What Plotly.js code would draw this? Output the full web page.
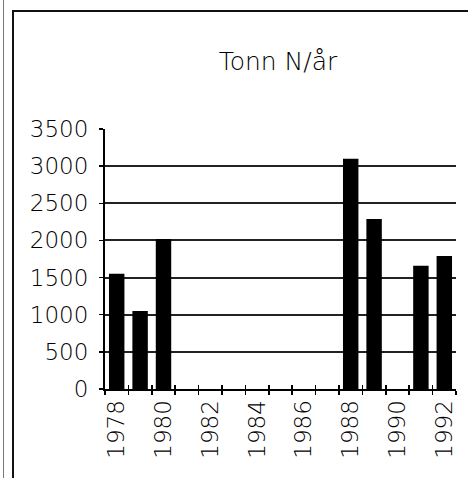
<!DOCTYPE html>
<html>
<head>
<meta charset="utf-8">
<script src="https://cdn.plot.ly/plotly-3.0.1.min.js"></script>
<style>
html,body{margin:0;padding:0;background:#fff;}
#wrap{position:relative;width:468px;height:478px;overflow:hidden;}
#chart{position:absolute;left:0;top:0;width:468px;height:478px;}
#b1{position:absolute;left:3px;top:0;width:1px;height:478px;background:#777;}
#b2{position:absolute;left:12px;top:10px;width:456px;height:468px;border-left:2px solid #111;border-top:2px solid #111;box-sizing:border-box;}
</style>
</head>
<body>
<div id="wrap">
<div id="chart"></div>
<div id="b1"></div>
<div id="b2"></div>
</div>
<script>
const years = [1978,1979,1980,1981,1982,1983,1984,1985,1986,1987,1988,1989,1990,1991,1992];
const tonnN = [1550,1050,2020,null,null,null,null,null,null,null,3100,2290,null,1660,1790];
const tickYears = [1978,1980,1982,1984,1986,1988,1990,1992];
const tickLabels = ['1978','1980','1982','1984','1986','1988','1990','1992'];
const yTicks = [0,500,1000,1500,2000,2500,3000,3500];

const font = {family:'DejaVu Sans', size:23, color:'#000', weight:300};

const data = [
  {type:'bar', x:years, y:tonnN, marker:{color:'#000', line:{width:0}}, width:0.66, hoverinfo:'x+y'},
  {type:'scatter', x:[], y:[], xaxis:'x2', yaxis:'y', showlegend:false}
];

const layout = {
  width:468, height:478,
  margin:{l:105, r:12, t:129, b:89, pad:0},
  paper_bgcolor:'#fff', plot_bgcolor:'#fff',
  showlegend:false,
  font:font,
  title:{text:'Tonn N/år', font:{family:'DejaVu Sans', size:25, color:'#000', weight:300},
         x:278/468, xref:'container', xanchor:'center', y:1-61/478, yref:'container', yanchor:'middle'},
  xaxis:{type:'linear', range:[1977.5,1992.5], tickmode:'array', tickvals:tickYears, ticktext:tickLabels,
         tickangle:-90, ticks:'', showgrid:false, zeroline:false,
         showline:true, linecolor:'#000', linewidth:2,
         minor:{tickmode:'linear', tick0:1977.5, dtick:1, ticks:'outside', ticklen:4, tickwidth:1.5, tickcolor:'#000', showgrid:false},
         tickfont:font, fixedrange:true},
  xaxis2:{type:'linear', overlaying:'x', anchor:'y', range:[1977.5,1992.5], showticklabels:false,
         tickmode:'linear', tick0:1977.5, dtick:1, ticks:'inside', ticklen:4, tickwidth:1.5, tickcolor:'#000',
         showgrid:false, zeroline:false, showline:false},
  yaxis:{range:[0,3500], tickmode:'array', tickvals:yTicks, ticks:'outside', ticklen:4, tickwidth:1.5, tickcolor:'#000',
         showgrid:true, gridcolor:'#222', gridwidth:2, zeroline:false,
         showline:true, linecolor:'#000', linewidth:2, tickfont:font, ticklabelstandoff:6, fixedrange:true}
};

Plotly.newPlot('chart', data, layout, {displayModeBar:false, staticPlot:true});
</script>
</body>
</html>
